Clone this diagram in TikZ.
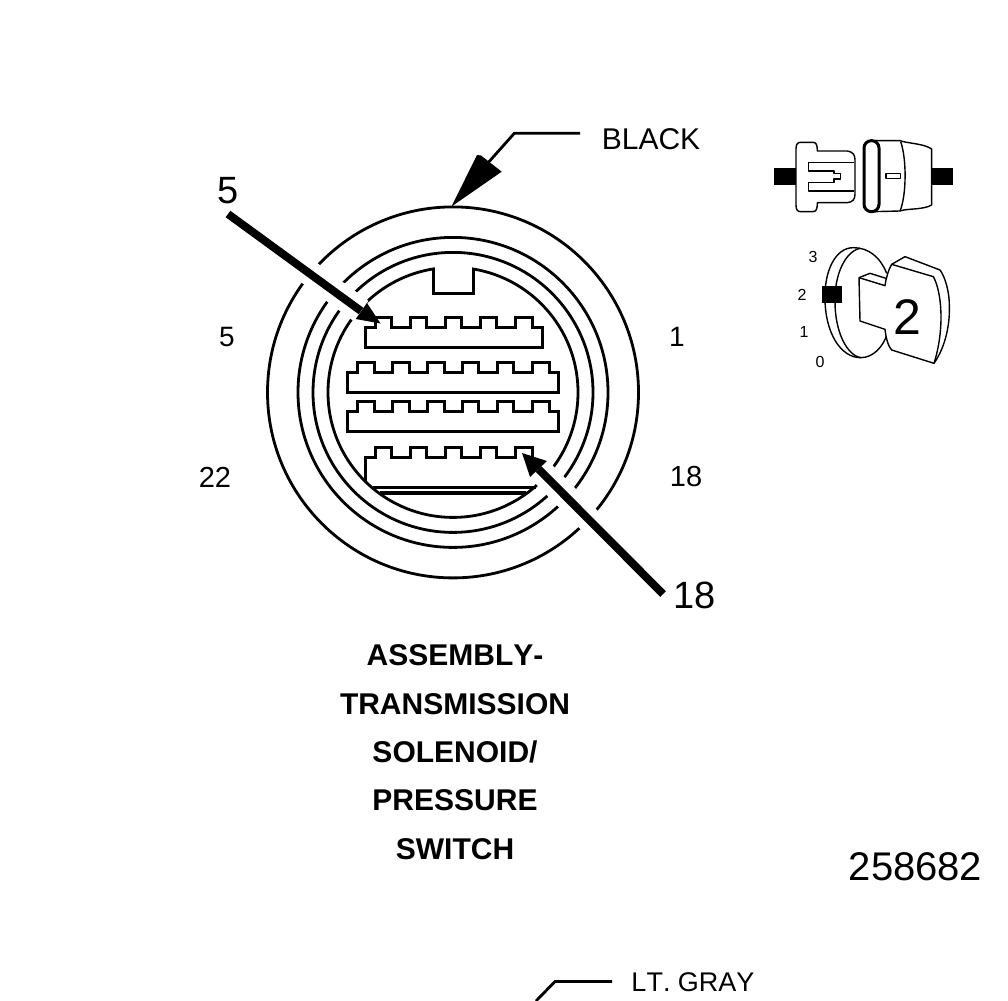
\documentclass[tikz,border=0pt]{standalone}
\usepackage{fontspec}
\setmainfont[Kerning=Off]{Liberation Sans}
\newcommand{\fs}[1]{\fontsize{#1pt}{#1pt}\selectfont}
\tikzset{
  ring/.style={line width=2.8pt},
  conn/.style={line width=3pt,line join=miter},
  thinl/.style={line width=1.4pt,line join=round},
  leader/.style={line width=2.8pt},
  halo/.style={white,line width=25pt},
  shaft/.style={line width=8pt},
  lbl/.style={inner sep=0pt,outer sep=0pt,align=center},
  title/.style={lbl,font=\fs{30}\bfseries},
}
\begin{document}
\begin{tikzpicture}[x=1pt,y=-1pt]
\useasboundingbox (0,0) rectangle (1008,1000);
\fill[white] (0,0) rectangle (1008,1000);
% rings
\coordinate (c) at (453,392.4);
\draw[ring] (c) circle[radius=185.5pt];
\draw[ring] (c) circle[radius=155pt];
\draw[ring] (c) circle[radius=140pt];
\draw[ring] (c) circle[radius=125pt];
% key notch
\fill[white] (435,264) rectangle (472,274);
\draw[conn] (433,268.5) -- (433,293) -- (473.5,293) -- (473.5,268.5);
% arrow anchor points
\coordinate (a1s) at (228,214);
\coordinate (a1t) at (380.5,323.5);
\coordinate (a1b) at (361,311);
\coordinate (a1l) at (355.7,319);
\coordinate (a1r) at (367,303);
\coordinate (a2s) at (663,594);
\coordinate (a2t) at (522,453);
\coordinate (a2b) at (538.5,469);
\coordinate (a2l) at (530,477);
\coordinate (a2r) at (547,461);
% gaps cut in the rings by the arrows
\draw[halo] (290,258.5) -- (a1b);
\draw[halo] (a2b) -- (612,543);
% connector cavities
\draw[conn] (365,327) -| (375,317) -| (391.5,327) -| (410,317) -| (426,327) -| (445,317) -| (461.5,327) -| (480,317) -| (496,327) -| (515,317) -| (532,327) -| (542,347) -| cycle;
\draw[conn] (347.5,372.5) -| (357.5,362.5) -| (374,372.5) -| (392.5,362.5) -| (409,372.5) -| (427.5,362.5) -| (444,372.5) -| (462.5,362.5) -| (478.5,372.5) -| (497.5,362.5) -| (513.5,372.5) -| (532.5,362.5) -| (549.5,372.5) -| (558.5,392.5) -| cycle;
\draw[conn] (347.5,411.5) -| (357.5,401.5) -| (374,411.5) -| (392.5,401.5) -| (409,411.5) -| (427.5,401.5) -| (444,411.5) -| (462.5,401.5) -| (478.5,411.5) -| (497.5,401.5) -| (513.5,411.5) -| (532.5,401.5) -| (549.5,411.5) -| (558.5,431.5) -| cycle;
\draw[conn] (365,482) -- (365,457) -| (375,447.5) -| (391.5,457) -| (410,447.5) -| (426,457) -| (445,447.5) -| (461.5,457) -| (480,447.5) -| (496,457) -| (515,447.5) -| (532,457);
\draw[line width=3pt] (373,487.5) -- (536,487.5);
\draw[line width=4pt] (380,493) -- (526,493);
% arrows
\draw[shaft] (a1s) -- (a1b);
\fill (a1t) -- (a1l) -- (a1r) -- cycle;
\draw[shaft] (a2s) -- (a2b);
\fill (a2t) -- (a2l) -- (a2r) -- cycle;
% BLACK leader
\coordinate (bl1) at (580,133.3);
\coordinate (bl2) at (514.3,133.3);
\coordinate (bl3) at (487,164);
\draw[leader] (bl1) -- (bl2) -- (bl3);
\fill (451.5,206.5) -- (477,155) -- (481,155.5) -- (501.7,171.7) -- cycle;
% LT. GRAY leader
\coordinate (gr1) at (612,981.5);
\coordinate (gr2) at (555,981.5);
\coordinate (gr3) at (536,1001);
\draw[leader] (gr1) -- (gr2) -- (gr3);
% labels
\node[lbl,font=\fs{30}] (black) at (651,139.5) {BLACK};
\node[lbl,font=\fs{27}] (ltgray) at (693,982) {LT. GRAY};
\node[lbl,font=\fs{38}] (big5) at (228,191) {5};
\node[lbl,font=\fs{38}] (big18) at (694.5,595) {18};
\node[lbl,font=\fs{28}] (p5) at (227,337) {5};
\node[lbl,font=\fs{28}] (p1) at (677,337) {1};
\node[lbl,font=\fs{29}] (p22) at (215,477) {22};
\node[lbl,font=\fs{29}] (p18) at (686,477) {18};
\node[title] (t1) at (455,655) {ASSEMBLY-};
\node[title] (t2) at (455,704) {TRANSMISSION};
\node[title] (t3) at (455,752) {SOLENOID/};
\node[title] (t4) at (455,800) {PRESSURE};
\node[title] (t5) at (455,849) {SWITCH};
\node[lbl,font=\fs{40}] (num) at (915.5,867) {258682};
% side view of the connector (zoom coordinates)
\begin{scope}[shift={(760,125)},scale=0.33333]
\fill (42,128) rectangle (107,180);
\fill (515,128) rectangle (580,180);
\draw[thinl,fill=white] (108,72) .. controls (108,58) and (112,52) .. (122,52) -- (158,52) .. controls (168,52) and (172,58) .. (172,78) -- (262,78) .. controls (278,80) and (285,90) .. (285,104) -- (285,208) .. controls (285,222) and (278,232) .. (262,233) -- (172,233) .. controls (172,254) and (168,260) .. (158,260) -- (122,260) .. controls (112,260) and (108,254) .. (108,240) -- cycle;
\draw[thinl] (283,112) -- (145,112) -- (145,138) -- (222,138) -- (222,146) -- (242,146) -- (242,162) -- (222,162) -- (222,172) -- (145,172) -- (145,198) -- (283,198);
\draw[thinl,fill=white] (340,47) -- (420,47) .. controls (440,55) and (490,55) .. (515,72) -- (515,240) .. controls (490,255) and (440,250) .. (420,258) -- (340,260) -- cycle;
\draw[thinl] (422,50) .. controls (440,100) and (440,210) .. (420,258);
\draw[thinl] (378,145) rectangle (422,160);
\draw[line width=3pt,fill=white,rounded corners=22*0.33333pt] (312,47) rectangle (357,260);
\end{scope}
% key view (zoom coordinates)
\begin{scope}[shift={(790,235)},scale=0.33333]
\draw[thinl] (290,115) .. controls (270,65) and (235,38) .. (190,38) .. controls (135,38) and (103,110) .. (105,190) .. controls (105,290) and (150,368) .. (212,368) .. controls (250,368) and (280,335) .. (292,295);
\draw[thinl] (210,40) .. controls (165,50) and (133,120) .. (135,200) .. controls (135,290) and (170,360) .. (212,368);
\draw[thinl,fill=white] (285,152) -- (207,128) -- (210,258) -- (285,283) .. controls (288,310) and (295,335) .. (305,345) -- (432,385) .. controls (470,330) and (480,260) .. (478,210) .. controls (478,170) and (465,125) .. (450,105) -- (345,65) -- (305,88) .. controls (295,105) and (288,130) .. (285,152) -- cycle;
\draw[thinl] (207,128) -- (240,115) -- (288,130);
\draw[thinl] (305,88) -- (430,125) .. controls (455,170) and (465,280) .. (432,385);
\fill (97,153) rectangle (155,203);
\end{scope}
\node[lbl,font=\fs{16}] (k3) at (813,257) {3};
\node[lbl,font=\fs{16}] (k2) at (802,295) {2};
\node[lbl,font=\fs{16}] (k1) at (804,332) {1};
\node[lbl,font=\fs{16}] (k0) at (820,362) {0};
\node[lbl,font=\fs{50}] (kbig) at (907,317) {2};
\end{tikzpicture}
\end{document}
